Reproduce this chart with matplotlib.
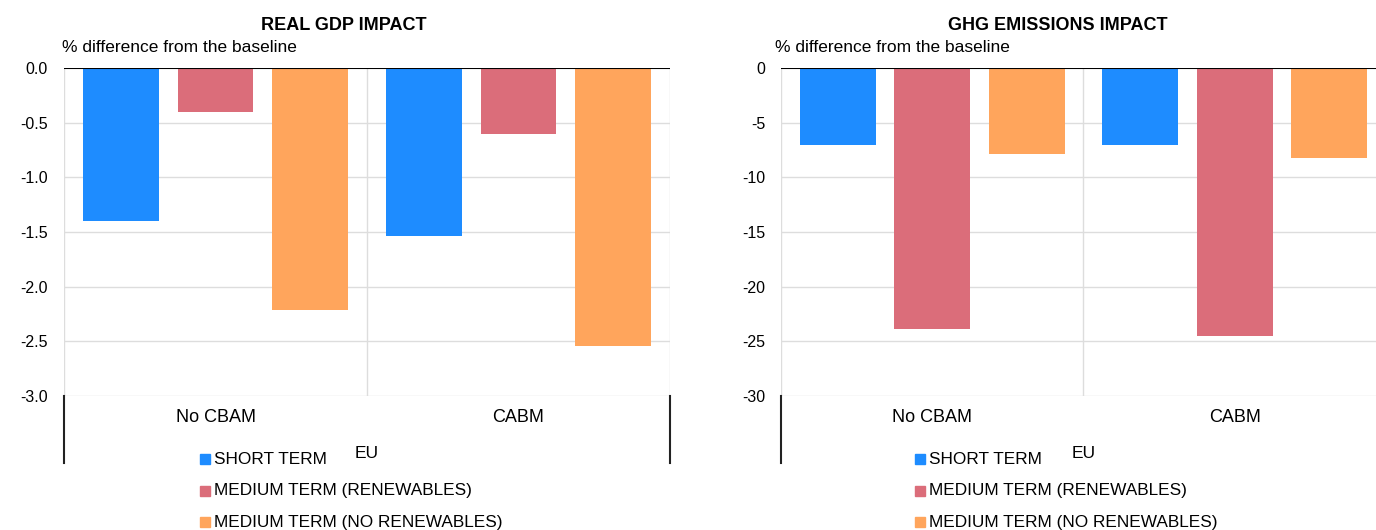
import numpy as np
import matplotlib.pyplot as plt
from matplotlib.lines import Line2D
from matplotlib.patches import Rectangle

plt.rcParams['font.family'] = ['Liberation Sans', 'DejaVu Sans']

# Scenario categories and series
categories = ['No CBAM', 'CABM']
group_label = 'EU'
series = ['SHORT TERM', 'MEDIUM TERM (RENEWABLES)', 'MEDIUM TERM (NO RENEWABLES)']
colors = ['#1E8CFF', '#DB6D7A', '#FFA55C']

# % difference from the baseline
gdp_short = [-1.40, -1.54]
gdp_med_renew = [-0.40, -0.60]
gdp_med_norenew = [-2.21, -2.54]

ghg_short = [-7.0, -7.0]
ghg_med_renew = [-23.9, -24.5]
ghg_med_norenew = [-7.85, -8.2]

gdp_ticks = [0.0, -0.5, -1.0, -1.5, -2.0, -2.5, -3.0]
ghg_ticks = [0, -5, -10, -15, -20, -25, -30]

W, H = 1376, 530
fig = plt.figure(figsize=(W / 100, H / 100), dpi=100)


def px_axes(x0, y0, x1, y1):
    return fig.add_axes([x0 / W, 1 - y1 / H, (x1 - x0) / W, (y1 - y0) / H])


def draw_panel(ax, values, ticks, fmt, title, title_x, note_x, legend_x):
    x = np.arange(len(categories)) + 0.5
    offsets = [-0.3125, 0.0, 0.3125]
    for vals, off, col in zip(values, offsets, colors):
        ax.bar(x + off, vals, width=0.25, color=col, zorder=2)

    ax.set_xlim(0, len(categories))
    ax.set_ylim(ticks[-1], ticks[0])
    ax.set_yticks(ticks)
    ax.set_yticklabels([fmt.format(t) for t in ticks], fontsize=11.5)
    ax.tick_params(axis='y', length=0, pad=11.5)
    ax.set_xticks([])
    for s in ax.spines.values():
        s.set_visible(False)

    # light grid, category separators, black zero line
    for t in ticks[1:]:
        ax.axhline(t, color='#dddddd', lw=1, zorder=1)
    for xv in range(len(categories) + 1):
        ax.axvline(xv, color='#dddddd', lw=1, zorder=1)
    ax.axhline(0, color='black', lw=1.5, zorder=3)

    # outer category axis brackets below the plot
    for xv in (0, len(categories)):
        ax.add_line(Line2D([xv, xv], [0, -0.205], transform=ax.get_xaxis_transform(),
                           color='#222222', lw=1.5, clip_on=False))
    for xi, cat in zip(x, categories):
        ax.text(xi, -0.065, cat, transform=ax.get_xaxis_transform(),
                ha='center', va='center', fontsize=13)
    ax.text(len(categories) / 2, -0.175, group_label, transform=ax.get_xaxis_transform(),
            ha='center', va='center', fontsize=12.5)

    fig.text(title_x / W, 1 - 25 / H, title, ha='center', va='center',
             fontsize=13, fontweight='bold')
    fig.text(note_x / W, 1 - 48 / H, '% difference from the baseline',
             ha='left', va='center', fontsize=12.5)

    # legend stacked vertically below the chart
    for i, (name, col) in enumerate(zip(series, colors)):
        yc = 459 + i * 31.5
        fig.patches.append(Rectangle((legend_x / W, 1 - (yc + 5) / H), 10 / W, 10 / H,
                                     transform=fig.transFigure, color=col))
        fig.text((legend_x + 14) / W, 1 - yc / H, name, ha='left', va='center',
                 fontsize=12.4)


ax1 = px_axes(64, 68, 670, 396)
draw_panel(ax1, [gdp_short, gdp_med_renew, gdp_med_norenew], gdp_ticks, '{:.1f}',
           'REAL GDP IMPACT', 344, 62, 200)

ax2 = px_axes(781, 68, 1386, 396)
draw_panel(ax2, [ghg_short, ghg_med_renew, ghg_med_norenew], ghg_ticks, '{:d}',
           'GHG EMISSIONS IMPACT', 1058, 775, 915)

fig.savefig('out.png', dpi=100)
